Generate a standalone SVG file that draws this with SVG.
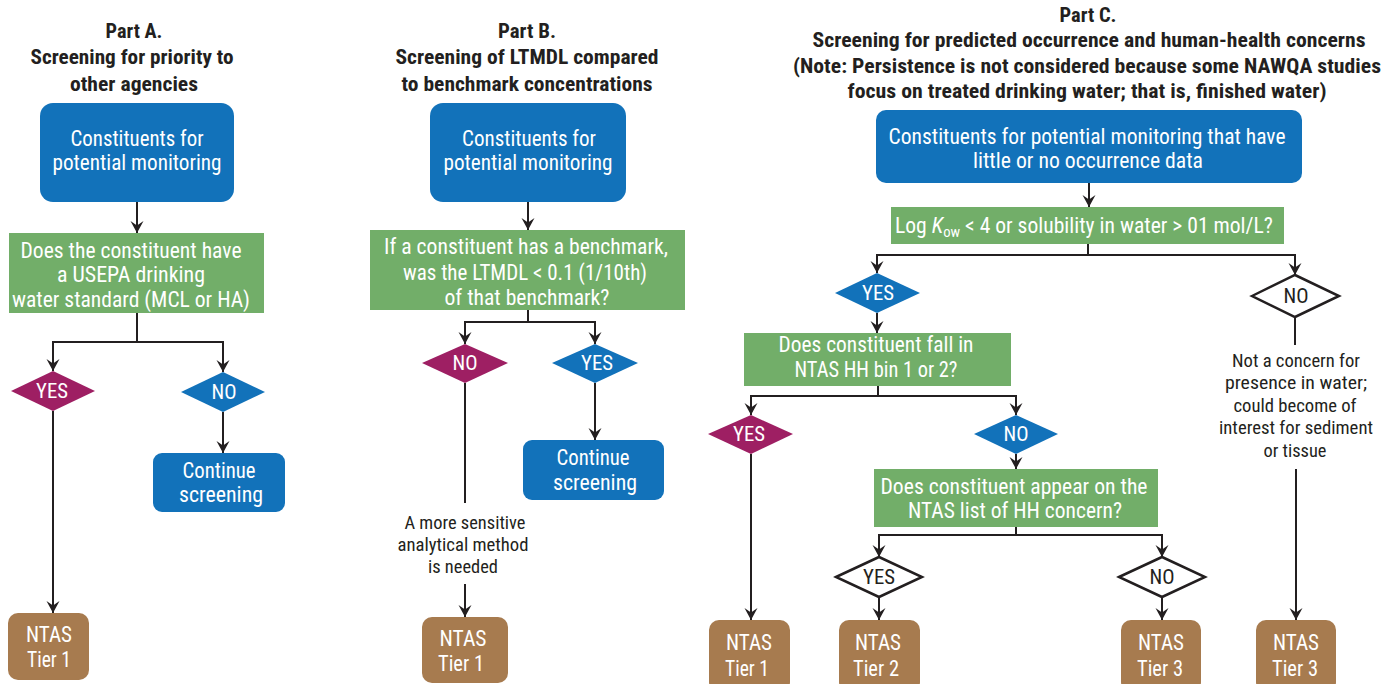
<svg xmlns="http://www.w3.org/2000/svg" width="1390" height="684" viewBox="0 0 1390 684">
  <style>
    text { font-family: "Liberation Sans Narrow", "Roboto Condensed", "DejaVu Sans Condensed", "Roboto", "Liberation Sans", sans-serif; text-anchor: middle; }
    .title { font-size: 20px; font-weight: bold; fill: #231F20; }
    .w { font-size: 22px; fill: #FFFFFF; }
    .d { font-size: 18px; fill: #231F20; }
    .lab { font-size: 21px; fill: #FFFFFF; }
    .labd { font-size: 21px; fill: #231F20; }
    .blue { fill: #1272BA; }
    .green { fill: #72AE69; }
    .mag { fill: #9E1F63; }
    .brown { fill: #A77B4F; }
    .open { fill: #FFFFFF; stroke: #231F20; stroke-width: 2.5; }
    .conn path { fill: none; stroke: #231F20; stroke-width: 2; }
    .conn path.arr { marker-end: url(#ah); }
  </style>
  <defs>
    <marker id="ah" viewBox="-13 -7 14 14" refX="0" refY="0" markerWidth="14" markerHeight="14" markerUnits="userSpaceOnUse" orient="auto">
      <path d="M0,0 L-12,-6.5 L-7.5,0 L-12,6.5 Z" fill="#231F20"/>
    </marker>
  </defs>

  <rect width="1390" height="684" fill="#FFFFFF"/>

  <!-- Section titles -->
  <g id="title-a">
    <text class="title" x="134" y="38" textLength="57" lengthAdjust="spacingAndGlyphs">Part A.</text>
    <text class="title" x="132" y="64" textLength="203" lengthAdjust="spacingAndGlyphs">Screening for priority to</text>
    <text class="title" x="134" y="91" textLength="128" lengthAdjust="spacingAndGlyphs">other agencies</text>
  </g>
  <g id="title-b">
    <text class="title" x="527" y="38" textLength="58" lengthAdjust="spacingAndGlyphs">Part B.</text>
    <text class="title" x="527" y="64" textLength="263" lengthAdjust="spacingAndGlyphs">Screening of LTMDL compared</text>
    <text class="title" x="527" y="91" textLength="251" lengthAdjust="spacingAndGlyphs">to benchmark concentrations</text>
  </g>
  <g id="title-c">
    <text class="title" x="1088" y="22" textLength="57" lengthAdjust="spacingAndGlyphs">Part C.</text>
    <text class="title" x="1089" y="47" textLength="553" lengthAdjust="spacingAndGlyphs">Screening for predicted occurrence and human-health concerns</text>
    <text class="title" x="1087" y="73" textLength="588" lengthAdjust="spacingAndGlyphs">(Note: Persistence is not considered because some NAWQA studies</text>
    <text class="title" x="1087" y="98" textLength="479" lengthAdjust="spacingAndGlyphs">focus on treated drinking water; that is, finished water)</text>
  </g>

  <!-- Connectors -->
  <g id="connectors" class="conn">
    <!-- Part A -->
    <path class="arr" d="M137,202 V233"/>
    <path class="arr" d="M137,313 V342 H53 V371"/>
    <path class="arr" d="M137,342 H223 V372"/>
    <path class="arr" d="M53,411 V613"/>
    <path class="arr" d="M223,412 V453"/>
    <!-- Part B -->
    <path class="arr" d="M528,202 V230"/>
    <path class="arr" d="M528,310 V322 H465 V344"/>
    <path class="arr" d="M528,322 H595 V344"/>
    <path d="M465,383 V503"/>
    <path class="arr" d="M465,584 V617"/>
    <path class="arr" d="M595,383 V440"/>
    <!-- Part C -->
    <path class="arr" d="M1089,183 V207"/>
    <path class="arr" d="M1088,244 V255 H877 V273"/>
    <path class="arr" d="M1088,255 H1295 V275"/>
    <path class="arr" d="M877,313 V333"/>
    <path class="arr" d="M878,386 V396 H751 V415"/>
    <path class="arr" d="M878,396 H1016 V415"/>
    <path class="arr" d="M751,454 V620"/>
    <path class="arr" d="M1016,454 V469"/>
    <path class="arr" d="M1016,527 V535 H879 V557"/>
    <path class="arr" d="M1016,535 H1162 V557"/>
    <path class="arr" d="M879,597 V620"/>
    <path class="arr" d="M1162,597 V620"/>
    <path d="M1295,317 V345"/>
    <path class="arr" d="M1296,469 V620"/>
  </g>

  <!-- Part A nodes -->
  <g id="a-start">
    <rect class="blue" x="40" y="103" width="194" height="99" rx="13"/>
    <text class="w" x="137" y="146" textLength="133" lengthAdjust="spacingAndGlyphs">Constituents for</text>
    <text class="w" x="137" y="170" textLength="169" lengthAdjust="spacingAndGlyphs">potential monitoring</text>
  </g>
  <g id="a-question">
    <rect class="green" x="9" y="233" width="255" height="80"/>
    <text class="w" x="131" y="258" textLength="221" lengthAdjust="spacingAndGlyphs">Does the constituent have</text>
    <text class="w" x="131" y="282" textLength="148" lengthAdjust="spacingAndGlyphs">a USEPA drinking</text>
    <text class="w" x="131" y="307" textLength="238" lengthAdjust="spacingAndGlyphs">water standard (MCL or HA)</text>
  </g>
  <g id="a-yes">
    <polygon class="mag" points="11,391 53,371 95,391 53,411"/>
    <text class="lab" x="52" y="398" textLength="32" lengthAdjust="spacingAndGlyphs">YES</text>
  </g>
  <g id="a-no">
    <polygon class="blue" points="181,392 223,372 265,392 223,412"/>
    <text class="lab" x="224" y="399" textLength="25" lengthAdjust="spacingAndGlyphs">NO</text>
  </g>
  <g id="a-continue">
    <rect class="blue" x="153" y="453" width="132" height="59" rx="9"/>
    <text class="w" x="219" y="478" textLength="73" lengthAdjust="spacingAndGlyphs">Continue</text>
    <text class="w" x="221" y="502" textLength="84" lengthAdjust="spacingAndGlyphs">screening</text>
  </g>
  <g id="a-tier1">
    <rect class="brown" x="8" y="613" width="81" height="67" rx="10"/>
    <text class="w" x="49" y="642" textLength="46" lengthAdjust="spacingAndGlyphs">NTAS</text>
    <text class="w" x="49" y="667" textLength="44" lengthAdjust="spacingAndGlyphs">Tier 1</text>
  </g>

  <!-- Part B nodes -->
  <g id="b-start">
    <rect class="blue" x="430" y="103" width="196" height="99" rx="13"/>
    <text class="w" x="529" y="146" textLength="134" lengthAdjust="spacingAndGlyphs">Constituents for</text>
    <text class="w" x="528" y="170" textLength="169" lengthAdjust="spacingAndGlyphs">potential monitoring</text>
  </g>
  <g id="b-question">
    <rect class="green" x="370" y="230" width="315" height="80"/>
    <text class="w" x="526" y="254" textLength="284" lengthAdjust="spacingAndGlyphs">If a constituent has a benchmark,</text>
    <text class="w" x="525" y="280" textLength="244" lengthAdjust="spacingAndGlyphs">was the LTMDL &lt; 0.1 (1/10th)</text>
    <text class="w" x="527" y="305" textLength="165" lengthAdjust="spacingAndGlyphs">of that benchmark?</text>
  </g>
  <g id="b-no">
    <polygon class="mag" points="422,363 465,344 508,363 465,383"/>
    <text class="lab" x="465" y="370" textLength="25" lengthAdjust="spacingAndGlyphs">NO</text>
  </g>
  <g id="b-yes">
    <polygon class="blue" points="552,363 595,344 638,363 595,383"/>
    <text class="lab" x="597" y="370" textLength="32" lengthAdjust="spacingAndGlyphs">YES</text>
  </g>
  <g id="b-continue">
    <rect class="blue" x="523" y="440" width="141" height="60" rx="9"/>
    <text class="w" x="593" y="465" textLength="73" lengthAdjust="spacingAndGlyphs">Continue</text>
    <text class="w" x="595" y="490" textLength="84" lengthAdjust="spacingAndGlyphs">screening</text>
  </g>
  <g id="b-note">
    <text class="d" x="465" y="529" textLength="121" lengthAdjust="spacingAndGlyphs">A more sensitive</text>
    <text class="d" x="463" y="551" textLength="131" lengthAdjust="spacingAndGlyphs">analytical method</text>
    <text class="d" x="463" y="573" textLength="70" lengthAdjust="spacingAndGlyphs">is needed</text>
  </g>
  <g id="b-tier1">
    <rect class="brown" x="422" y="617" width="86" height="66" rx="10"/>
    <text class="w" x="463" y="646" textLength="47" lengthAdjust="spacingAndGlyphs">NTAS</text>
    <text class="w" x="461" y="671" textLength="46" lengthAdjust="spacingAndGlyphs">Tier 1</text>
  </g>

  <!-- Part C nodes -->
  <g id="c-start">
    <rect class="blue" x="876" y="110" width="426" height="73" rx="10"/>
    <text class="w" x="1087" y="144" textLength="397" lengthAdjust="spacingAndGlyphs">Constituents for potential monitoring that have</text>
    <text class="w" x="1088" y="168" textLength="230" lengthAdjust="spacingAndGlyphs">little or no occurrence data</text>
  </g>
  <g id="c-kow">
    <rect class="green" x="891" y="207" width="393" height="37"/>
    <text class="w" x="1084" y="233" textLength="378" lengthAdjust="spacingAndGlyphs">Log <tspan font-style="italic">K</tspan><tspan font-size="15" dy="4">ow</tspan><tspan dy="-4"> &lt; 4 or solubility in water &gt; 01 mol/L?</tspan></text>
  </g>
  <g id="c-yes">
    <polygon class="blue" points="835,293 877,273 920,293 877,313"/>
    <text class="lab" x="878" y="300" textLength="32" lengthAdjust="spacingAndGlyphs">YES</text>
  </g>
  <g id="c-no">
    <polygon class="open" points="1252,296 1295,275 1339,296 1295,317"/>
    <text class="labd" x="1296" y="303" textLength="25" lengthAdjust="spacingAndGlyphs">NO</text>
  </g>
  <g id="c-note">
    <text class="d" x="1296" y="367" textLength="128" lengthAdjust="spacingAndGlyphs">Not a concern for</text>
    <text class="d" x="1296" y="389" textLength="142" lengthAdjust="spacingAndGlyphs">presence in water;</text>
    <text class="d" x="1295" y="412" textLength="123" lengthAdjust="spacingAndGlyphs">could become of</text>
    <text class="d" x="1296" y="434" textLength="154" lengthAdjust="spacingAndGlyphs">interest for sediment</text>
    <text class="d" x="1295" y="457" textLength="63" lengthAdjust="spacingAndGlyphs">or tissue</text>
  </g>
  <g id="c-bin">
    <rect class="green" x="744" y="333" width="267" height="53"/>
    <text class="w" x="876" y="352" textLength="195" lengthAdjust="spacingAndGlyphs">Does constituent fall in</text>
    <text class="w" x="876" y="377" textLength="163" lengthAdjust="spacingAndGlyphs">NTAS HH bin 1 or 2?</text>
  </g>
  <g id="c-bin-yes">
    <polygon class="mag" points="708,434 751,415 793,434 751,454"/>
    <text class="lab" x="749" y="441" textLength="32" lengthAdjust="spacingAndGlyphs">YES</text>
  </g>
  <g id="c-bin-no">
    <polygon class="blue" points="974,434 1016,415 1058,434 1016,454"/>
    <text class="lab" x="1016" y="441" textLength="25" lengthAdjust="spacingAndGlyphs">NO</text>
  </g>
  <g id="c-list">
    <rect class="green" x="874" y="469" width="284" height="58"/>
    <text class="w" x="1014" y="494" textLength="267" lengthAdjust="spacingAndGlyphs">Does constituent appear on the</text>
    <text class="w" x="1015" y="518" textLength="214" lengthAdjust="spacingAndGlyphs">NTAS list of HH concern?</text>
  </g>
  <g id="c-list-yes">
    <polygon class="open" points="836,577 879,557 922,577 879,597"/>
    <text class="labd" x="879" y="584" textLength="32" lengthAdjust="spacingAndGlyphs">YES</text>
  </g>
  <g id="c-list-no">
    <polygon class="open" points="1119,577 1162,557 1205,577 1162,597"/>
    <text class="labd" x="1162" y="584" textLength="25" lengthAdjust="spacingAndGlyphs">NO</text>
  </g>
  <g id="c-tier1">
    <rect class="brown" x="709" y="620" width="81" height="72" rx="10"/>
    <text class="w" x="749" y="650" textLength="46" lengthAdjust="spacingAndGlyphs">NTAS</text>
    <text class="w" x="747" y="676" textLength="44" lengthAdjust="spacingAndGlyphs">Tier 1</text>
  </g>
  <g id="c-tier2">
    <rect class="brown" x="839" y="620" width="81" height="72" rx="10"/>
    <text class="w" x="878" y="650" textLength="46" lengthAdjust="spacingAndGlyphs">NTAS</text>
    <text class="w" x="876" y="676" textLength="46" lengthAdjust="spacingAndGlyphs">Tier 2</text>
  </g>
  <g id="c-tier3a">
    <rect class="brown" x="1121" y="620" width="80" height="72" rx="10"/>
    <text class="w" x="1161" y="650" textLength="46" lengthAdjust="spacingAndGlyphs">NTAS</text>
    <text class="w" x="1160" y="676" textLength="46" lengthAdjust="spacingAndGlyphs">Tier 3</text>
  </g>
  <g id="c-tier3b">
    <rect class="brown" x="1256" y="620" width="80" height="72" rx="10"/>
    <text class="w" x="1296" y="650" textLength="46" lengthAdjust="spacingAndGlyphs">NTAS</text>
    <text class="w" x="1295" y="676" textLength="46" lengthAdjust="spacingAndGlyphs">Tier 3</text>
  </g>
</svg>
